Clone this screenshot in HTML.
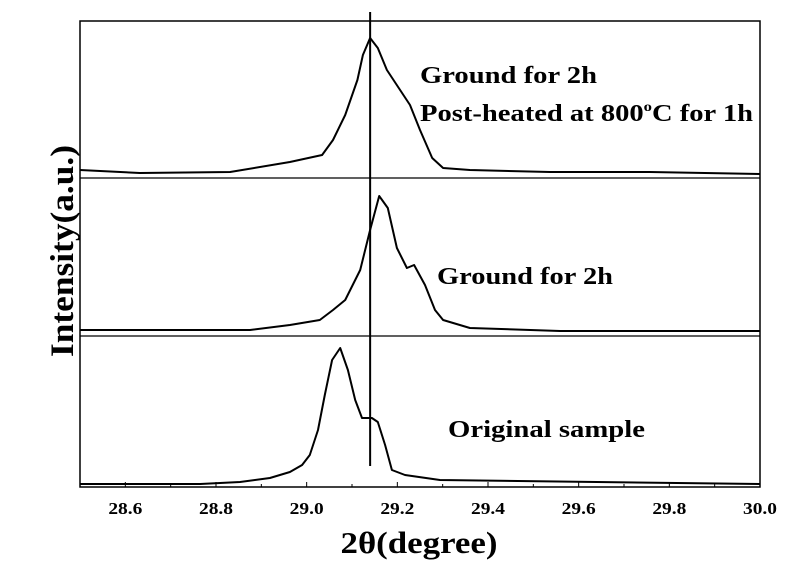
<!DOCTYPE html>
<html><head><meta charset="utf-8"><style>
body{margin:0;background:#fff}
svg{display:block}
text{font-family:"Liberation Serif",serif;font-weight:bold;fill:#000}
</style></head><body>
<svg id="chart" width="800" height="561" viewBox="0 0 800 561">
<g id="g"></g>
</svg>
<script>
const xTopVals=[28.5,28.632,28.831,28.963,29.034,29.058,29.085,29.112,29.124,29.140,29.157,29.177,29.206,29.228,29.250,29.277,29.301,29.360,29.537,29.757,30.0];
const yTopVals=[8,5,6,16,23,38,63,98,123,140,130,108,88,73,48,20,10,8,6,6,4];
const xMidVals=[28.5,28.875,28.963,29.029,29.058,29.085,29.118,29.140,29.160,29.179,29.199,29.221,29.237,29.261,29.283,29.301,29.360,29.559,30.0];
const yMidVals=[6,6,11,16,26,36,66,106,140,128,88,68,71,51,26,16,8,5,5];
const xBotVals=[28.5,28.765,28.853,28.919,28.963,28.990,29.007,29.025,29.040,29.056,29.074,29.091,29.107,29.122,29.144,29.157,29.173,29.188,29.217,29.294,30.0];
const yBotVals=[6,6,8,12,18,25,35,60,95,130,142,120,90,72,72,68,45,20,15,10,6];
const tickLabels=["28.6","28.8","29.0","29.2","29.4","29.6","29.8","30.0"];
const refLine=29.14;

const L=80,R=760,T=21,B=487;
const panelBase=[178,336,490];
const seps=[178,336];
const sx=v=>L+(v-28.5)/(30-28.5)*(R-L);
const NS="http://www.w3.org/2000/svg";
const g=document.getElementById('g');
function mk(t,a,parent){const e=document.createElementNS(NS,t);for(const k in a)e.setAttribute(k,a[k]);(parent||g).appendChild(e);return e;}

let e=mk('rect',{x:L,y:T,width:R-L,height:B-T,fill:'none',stroke:'#000','stroke-width':1.5});


seps.forEach((y,i)=>{
 const s=mk('line',{x1:L,x2:R,y1:y,y2:y,stroke:'#000','stroke-width':1.3});
 
 
});
for(let k=0;k<=15;k++){
 const v=28.5+k*0.1, x=sx(v), major=(k%2==1);
 const t=mk('line',{x1:x,x2:x,y1:B,y2:B-(major?5:3),stroke:'#000','stroke-width':1});
 
 
}
tickLabels.forEach(lbl=>{
 const t=mk('text',{x:sx(parseFloat(lbl)),y:514,'text-anchor':'middle','font-size':17,textLength:34,lengthAdjust:'spacingAndGlyphs'});
 t.textContent=lbl;
 
 
});
const series=[[xTopVals,yTopVals,'series-post-heated'],[xMidVals,yMidVals,'series-ground-2h'],[xBotVals,yBotVals,'series-original']];
series.forEach((s,i)=>{
 const d=s[0].map((x,j)=>(j?'L':'M')+sx(x).toFixed(1)+','+(panelBase[i]-s[1][j]).toFixed(1)).join('');
 const p=mk('path',{d:d,fill:'none',stroke:'#000','stroke-width':2,'stroke-linejoin':'round'});
 
 
});
const rl=mk('line',{x1:sx(refLine),x2:sx(refLine),y1:12,y2:466,stroke:'#000','stroke-width':2});


</script>
<svg width="800" height="561" style="position:absolute;left:0;top:0">
<text x="420" y="83" font-size="24" textLength="177" lengthAdjust="spacingAndGlyphs">Ground for 2h</text>
<text x="420" y="121" font-size="24" textLength="333" lengthAdjust="spacingAndGlyphs">Post-heated at 800<tspan font-size="14" dy="-10">o</tspan><tspan dy="10">C for 1h</tspan></text>
<text x="437" y="284" font-size="24" textLength="176" lengthAdjust="spacingAndGlyphs">Ground for 2h</text>
<text x="448" y="437" font-size="24" textLength="197" lengthAdjust="spacingAndGlyphs">Original sample</text>
<text x="419" y="553" font-size="31" text-anchor="middle" textLength="157" lengthAdjust="spacingAndGlyphs">2θ(degree)</text>
<text x="0" y="0" font-size="33" text-anchor="middle" textLength="212" lengthAdjust="spacingAndGlyphs" transform="translate(73,251) rotate(-90)">Intensity(a.u.)</text>
</svg>
</body></html>
